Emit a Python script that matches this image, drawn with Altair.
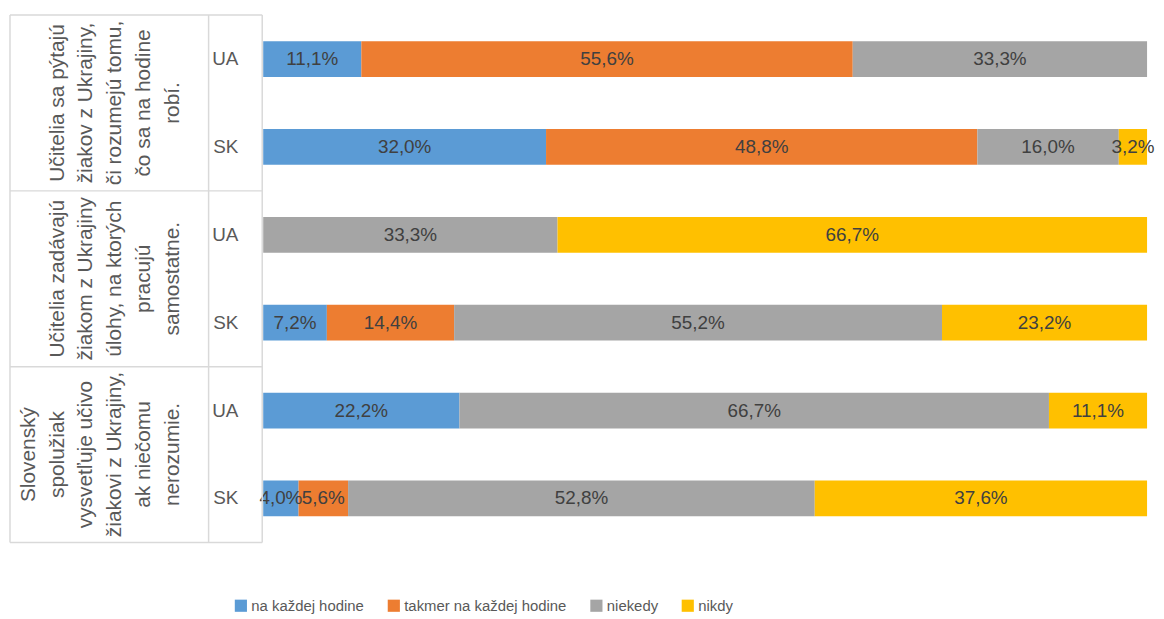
import altair as alt
import pandas as pd

# ---- data ----
group_lines = [
    ["Učitelia sa pýtajú", "žiakov z Ukrajiny,", "či rozumejú tomu,", "čo sa na hodine", "robí."],
    ["Učitelia zadávajú", "žiakom z Ukrajiny", "úlohy, na ktorých", "pracujú", "samostatne."],
    ["Slovenský", "spolužiak", "vysvetľuje učivo", "žiakovi z  Ukrajiny,", "ak niečomu", "nerozumie."],
]
countries = ["UA", "SK", "UA", "SK", "UA", "SK"]
categories = ["na každej hodine", "takmer na každej hodine", "niekedy", "nikdy"]
colors = ["#5B9BD5", "#ED7D31", "#A5A5A5", "#FFC000"]
na_kazdej = [11.1, 32.0, 0.0, 7.2, 22.2, 4.0]
takmer = [55.6, 48.8, 0.0, 14.4, 0.0, 5.6]
niekedy = [33.3, 16.0, 33.3, 55.2, 66.7, 52.8]
nikdy = [0.0, 3.2, 66.7, 23.2, 11.1, 37.6]

series = [na_kazdej, takmer, niekedy, nikdy]
recs = []
for ci, (cat, vals) in enumerate(zip(categories, series)):
    for ri, v in enumerate(vals):
        recs.append({"row": ri, "country": countries[ri], "cat": cat, "ord": ci, "value": v})
df = pd.DataFrame(recs)

# group labels: lines stacked so that the last line of every block ends at the same place
max_lines = max(len(g) for g in group_lines)
group_texts = ["\n" * (max_lines - len(g)) + "\n".join(g) for g in group_lines]

rows_df = pd.DataFrame({"row": list(range(len(countries))), "country": countries})
groups_df = pd.DataFrame({"gpos": [0.5, 2.5, 4.5], "label": group_texts})
hlines_df = pd.DataFrame({"y": [-0.5, 1.5, 3.5, 5.5]})
vlines_df = pd.DataFrame({"y": [-0.5], "y2": [5.5]})

LBL_FONT = "Liberation Sans, sans-serif"
NUM_FONT = "Liberation Sans, sans-serif"
GRID = "#D9D9D9"

yscale = alt.Scale(domain=[-0.5, 5.5], reverse=True, nice=False, zero=False)
xscale = alt.Scale(domain=[0, 100], nice=False, zero=True)

base = alt.Chart(df).transform_window(
    x1="sum(value)", frame=[None, 0], groupby=["row"],
    sort=[alt.SortField("ord", order="ascending")],
).transform_calculate(x0="datum.x1 - datum.value")

bars = base.mark_bar(height=36).encode(
    x=alt.X("x0:Q", scale=xscale, axis=None),
    x2="x1:Q",
    y=alt.Y("row:Q", scale=yscale, axis=None),
    color=alt.Color(
        "cat:N",
        scale=alt.Scale(domain=categories, range=colors),
        legend=alt.Legend(
            title=None, orient="none", direction="horizontal",
            legendX=-30, legendY=592,
            symbolType="square", symbolSize=150, symbolStrokeWidth=0,
            labelFont=LBL_FONT, labelFontSize=15, labelColor="#595959",
            labelOffset=3, columnPadding=22, labelLimit=400,
        ),
    ),
)

labels = base.transform_filter("datum.value > 0").transform_calculate(
    mid="(datum.x0 + datum.x1) / 2",
    lab="replace(format(datum.value, '.1f'), '.', ',') + '%'",
).mark_text(font=NUM_FONT, fontSize=19, color="#404040").encode(
    x=alt.X("mid:Q", scale=xscale),
    y=alt.Y("row:Q", scale=yscale),
    text="lab:N",
)

country_text = alt.Chart(rows_df).mark_text(
    align="right", font=NUM_FONT, fontSize=19, color="#595959"
).encode(
    x=alt.value(-25),
    y=alt.Y("row:Q", scale=yscale),
    text="country:N",
)

group_text = alt.Chart(groups_df).mark_text(
    angle=270, align="center", baseline="middle",
    lineBreak="\n", lineHeight=29, font=LBL_FONT, fontSize=21, color="#595959",
).encode(
    x=alt.value(-236),
    y=alt.Y("gpos:Q", scale=yscale),
    text="label:N",
)

hlines = alt.Chart(hlines_df).mark_rule(color=GRID, strokeWidth=1.5).encode(
    x=alt.value(-255), x2=alt.value(-1),
    y=alt.Y("y:Q", scale=yscale),
)


def vline(xv):
    return alt.Chart(vlines_df).mark_rule(color=GRID, strokeWidth=1.5).encode(
        x=alt.value(xv), y=alt.Y("y:Q", scale=yscale), y2="y2:Q"
    )


chart = alt.layer(
    bars, labels, country_text, group_text, hlines, vline(-255), vline(-55), vline(-1)
).properties(
    width=890, height=541,
    autosize=alt.AutoSizeParams(type="none"),
    padding={"left": 257, "top": 0, "right": 9, "bottom": 76},
).configure_view(stroke=None)

chart.save("out.html", embed_options={"renderer": "svg", "actions": False})
